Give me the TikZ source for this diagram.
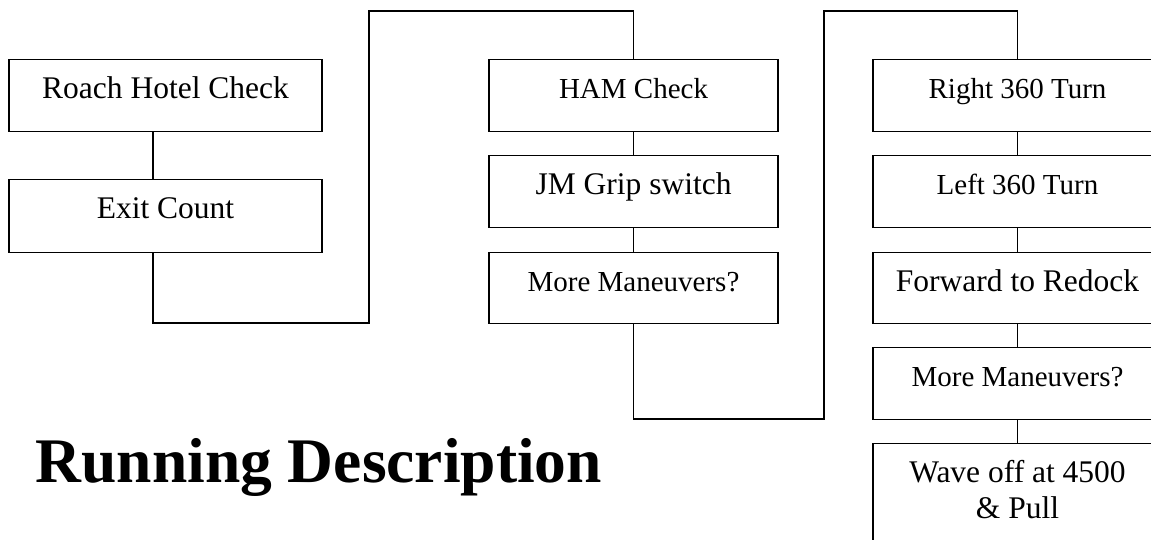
\documentclass[tikz,border=0pt]{standalone}
\usepackage{fontspec}
\setmainfont{Liberation Serif}
\begin{document}
\begin{tikzpicture}[x=1pt,y=-1pt,
  line width=1.3pt,
  stepbox/.style={draw, line width=1.3pt, inner sep=0pt, anchor=north, align=center,
    minimum width=289pt, text height=38.5pt, text depth=33.5pt},
  wide/.style={minimum width=313pt},
  bigtxt/.style={font=\fontsize{31.5}{36}\selectfont},
  smalltxt/.style={font=\fontsize{29}{34}\selectfont},
  link/.style={draw, line width=1.3pt}
]
\clip (0,0) rectangle (1151,539);
% column 1
\node[stepbox, wide, bigtxt] (roach) at (165.5,59) {Roach Hotel Check};
\node[stepbox, wide, bigtxt, text depth=34.5pt] (exit) at (165.5,179) {Exit Count};
% column 2
\node[stepbox, smalltxt] (ham) at (633.5,59) {HAM Check};
\node[stepbox, bigtxt] (jm) at (633.5,155) {JM Grip switch};
\node[stepbox, smalltxt, text depth=32.5pt] (mm2) at (633.5,252) {More Maneuvers?};
% column 3
\node[stepbox, smalltxt] (r360) at (1017.5,59) {Right 360 Turn};
\node[stepbox, smalltxt] (l360) at (1017.5,155) {Left 360 Turn};
\node[stepbox, bigtxt, text depth=32.5pt] (fwd) at (1017.5,252) {Forward to Redock};
\node[stepbox, smalltxt] (mm3) at (1017.5,347) {More Maneuvers?};
\node[stepbox, bigtxt, text height=75pt, text depth=80pt] (wave) at (1017.5,443) {Wave off at 4500\\\& Pull};
% title
\node[anchor=base west, inner sep=0pt, font=\fontsize{63.5}{70}\selectfont\bfseries] (title) at (35,482) {Running Description};
% connectors
\coordinate (c1a) at (153,323);
\coordinate (c1b) at (369,11);
\coordinate (c2a) at (633.5,419);
\coordinate (c2b) at (824,11);
\draw[link] ([xshift=-12.5pt]roach.south) -- ([xshift=-12.5pt]exit.north);
\draw[link] ([xshift=-12.5pt]exit.south) -- (c1a) -| (c1b) -| (ham.north);
\draw[link] (ham.south) -- (jm.north);
\draw[link] (jm.south) -- (mm2.north);
\draw[link] (mm2.south) -- (c2a) -| (c2b) -| (r360.north);
\draw[link] (r360.south) -- (l360.north);
\draw[link] (l360.south) -- (fwd.north);
\draw[link] (fwd.south) -- (mm3.north);
\draw[link] (mm3.south) -- (wave.north);
\end{tikzpicture}
\end{document}
